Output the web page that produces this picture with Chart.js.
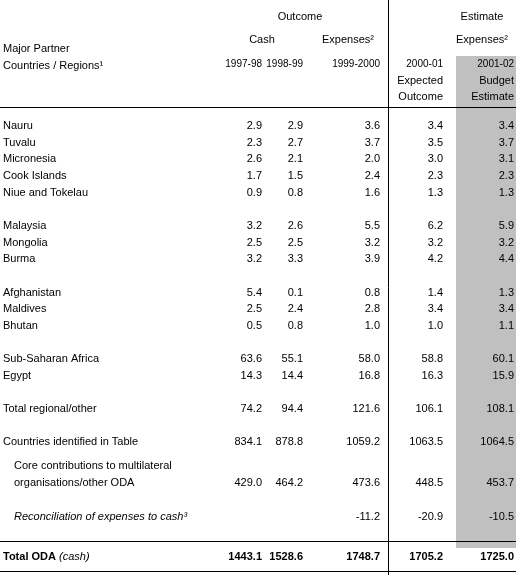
<!DOCTYPE html>
<html><head><meta charset="utf-8">
<script src="https://cdn.jsdelivr.net/npm/chart.js@4.4.0/dist/chart.umd.min.js"></script>
<style>body{margin:0;background:#fff}canvas{display:block}</style>
</head><body>
<canvas id="tbl" width="516" height="575"></canvas>
<script>
// table rows: label, 1997-98, 1998-99, 1999-2000, 2000-01, 2001-02
let labels = ['Nauru','Tuvalu','Micronesia','Cook Islands','Niue and Tokelau','',
  'Malaysia','Mongolia','Burma','',
  'Afghanistan','Maldives','Bhutan','',
  'Sub-Saharan Africa','Egypt','',
  'Total regional/other','',
  'Countries identified in Table'];
let y9798 = ['2.9','2.3','2.6','1.7','0.9','', '3.2','2.5','3.2','', '5.4','2.5','0.5','', '63.6','14.3','', '74.2','', '834.1'];
let y9899 = ['2.9','2.7','2.1','1.5','0.8','', '2.6','2.5','3.3','', '0.1','2.4','0.8','', '55.1','14.4','', '94.4','', '878.8'];
let y9900 = ['3.6','3.7','2.0','2.4','1.6','', '5.5','3.2','3.9','', '0.8','2.8','1.0','', '58.0','16.8','', '121.6','', '1059.2'];
let y0001 = ['3.4','3.5','3.0','2.3','1.3','', '6.2','3.2','4.2','', '1.4','3.4','1.0','', '58.8','16.3','', '106.1','', '1063.5'];
let y0102 = ['3.4','3.7','3.1','2.3','1.3','', '5.9','3.2','4.4','', '1.3','3.4','1.1','', '60.1','15.9','', '108.1','', '1064.5'];
let core = ['429.0','464.2','473.6','448.5','453.7'];
let recon = ['','','-11.2','-20.9','-10.5'];
let totals = ['1443.1','1528.6','1748.7','1705.2','1725.0'];
let hdr = ['1997-98', '1998-99', '1999-2000', '2000-01', '2001-02'];

const colRight = [262, 303, 380, 443, 514];
const F = '"Liberation Sans", Arial, sans-serif';
const FS = '11px ';

const tablePlugin = {
  id: 'tablePlugin',
  afterDraw(chart) {
    const c = chart.ctx, X = chart.scales.x, Y = chart.scales.y;
    const px = v => X.getPixelForValue(v), py = v => Y.getPixelForValue(v);
    c.save();
    // shaded budget column
    c.fillStyle = '#c0c0c0';
    c.fillRect(px(456), py(56), px(516) - px(456), py(548) - py(56));
    c.strokeStyle = '#000'; c.lineWidth = 1;
    const line = (x1, y1, x2, y2) => { c.beginPath(); c.moveTo(px(x1), py(y1)); c.lineTo(px(x2), py(y2)); c.stroke(); };
    line(388.5, 0, 388.5, 575);
    line(0, 107.5, 516, 107.5);
    line(0, 541.5, 516, 541.5);
    line(0, 571.5, 516, 571.5);
    c.fillStyle = '#000';
    c.textBaseline = 'middle';
    const txt = (s, x, y, align, font) => { c.font = font || (FS + F); c.textAlign = align || 'left'; c.fillText(s, px(x), py(y)); };
    // headers
    txt('Outcome', 300, 17, 'center');
    txt('Estimate', 482, 17, 'center');
    txt('Cash', 262, 40, 'center');
    txt('Expenses²', 348, 40, 'center');
    txt('Expenses²', 482, 40, 'center');
    txt('Major Partner', 3, 49);
    txt('Countries / Regions¹', 3, 66);
    hdr.forEach((h, i) => txt(h, colRight[i], 64, 'right', '10px ' + F));
    txt('Expected', 443, 81, 'right'); txt('Outcome', 443, 97, 'right');
    txt('Budget', 514, 81, 'right'); txt('Estimate', 514, 97, 'right');
    // body rows
    const cols = [y9798, y9899, y9900, y0001, y0102];
    labels.forEach((l, r) => {
      const y = 126 + r * 16.65;
      txt(l, 3, y);
      cols.forEach((arr, i) => { if (arr[r]) txt(arr[r], colRight[i], y, 'right'); });
    });
    txt('Core contributions to multilateral', 14, 466);
    txt('organisations/other ODA', 14, 483);
    core.forEach((v, i) => txt(v, colRight[i], 483, 'right'));
    txt('Reconciliation of expenses to cash³', 14, 517, 'left', 'italic ' + FS + F);
    recon.forEach((v, i) => { if (v) txt(v, colRight[i], 517, 'right'); });
    c.font = 'bold ' + FS + F; c.textAlign = 'left';
    c.fillText('Total ODA', px(3), py(557));
    const w = c.measureText('Total ODA ').width;
    c.font = 'italic ' + FS + F; c.fillText('(cash)', px(3) + w, py(557));
    totals.forEach((v, i) => txt(v, colRight[i], 557, 'right', 'bold ' + FS + F));
    c.restore();
  }
};

new Chart('tbl', {
  type: 'scatter',
  data: { datasets: [{ data: [] }] },
  options: {
    responsive: false, animation: false,
    layout: { padding: 0 },
    plugins: { legend: { display: false }, tooltip: { enabled: false } },
    scales: {
      x: { type: 'linear', min: 0, max: 516, display: false },
      y: { type: 'linear', min: 0, max: 575, reverse: true, display: false }
    }
  },
  plugins: [tablePlugin]
});
</script>
</body></html>
